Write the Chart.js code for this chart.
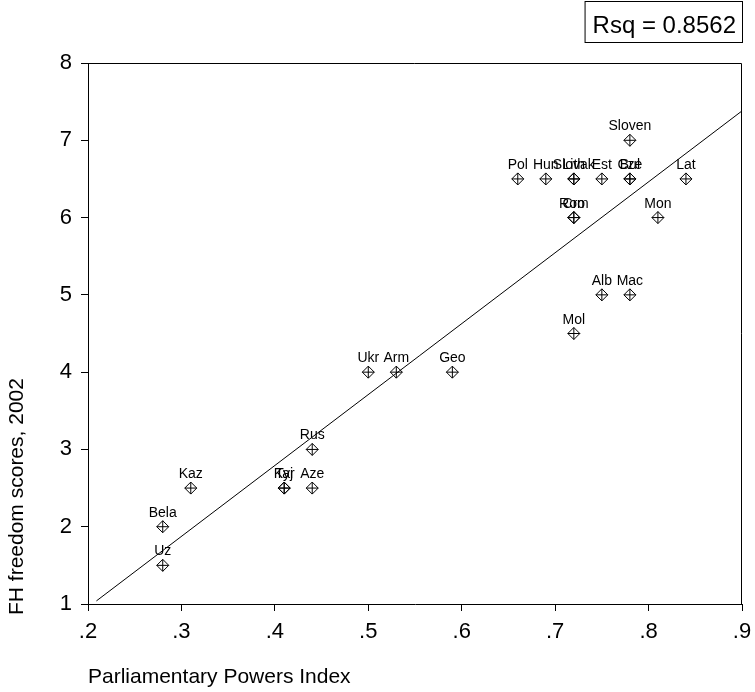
<!DOCTYPE html>
<html>
<head>
<meta charset="utf-8">
<title>FH freedom scores vs Parliamentary Powers Index</title>
<script src="https://cdn.jsdelivr.net/npm/chart.js@4.4.0/dist/chart.umd.min.js"></script>
<style>
    body { margin: 0; background: #fff; }
    canvas { display: block; }
</style>
</head>
<body>
<canvas id="myChart" width="755" height="692"></canvas>
<script>
//--- Data
var countries = ['Pol', 'Hun', 'Slovak', 'Lith', 'Est', 'Cze', 'Bul', 'Sloven', 'Lat',
    'Rom', 'Cro', 'Mon', 'Alb', 'Mac', 'Mol', 'Ukr', 'Arm', 'Geo', 'Rus',
    'Kyr', 'Taj', 'Aze', 'Kaz', 'Bela', 'Uz'];
var ppiValues = [0.66, 0.69, 0.72, 0.72, 0.75, 0.78, 0.78, 0.78, 0.84,
    0.72, 0.72, 0.81, 0.75, 0.78, 0.72, 0.50, 0.53, 0.59, 0.44,
    0.41, 0.41, 0.44, 0.31, 0.28, 0.28];
var fhValues = [6.5, 6.5, 6.5, 6.5, 6.5, 6.5, 6.5, 7, 6.5,
    6, 6, 6, 5, 5, 4.5, 4, 4, 4, 3,
    2.5, 2.5, 2.5, 2.5, 2, 1.5];
// fit line end points
var fitX = [0.209, 0.9];
var fitY = [1.04, 7.38];
var xTicks = [0.2, 0.3, 0.4, 0.5, 0.6, 0.7, 0.8, 0.9];
var yTicks = [1, 2, 3, 4, 5, 6, 7, 8];
var rsqText = 'Rsq = 0.8562';
var xTitle = 'Parliamentary Powers Index';
var yTitle = 'FH freedom scores, 2002';

var fontFamily = '"Liberation Sans", Arial, Helvetica, sans-serif';

var points = [];
for (var i = 0; i < countries.length; i++) {
    points.push({ x: ppiValues[i], y: fhValues[i] });
}
var fitPoints = [];
for (var j = 0; j < fitX.length; j++) {
    fitPoints.push({ x: fitX[j], y: fitY[j] });
}

//--- Plugin: point labels, box, axis titles, Rsq box
var extrasPlugin = {
    id: 'extras',
    afterDatasetsDraw: function (chart) {
        var c = chart.ctx;
        var xs = chart.scales.x, ys = chart.scales.y;
        var area = chart.chartArea;
        c.save();
        c.fillStyle = '#000';
        c.strokeStyle = '#000';
        c.lineWidth = 1;

        // labels above markers
        c.font = '14px ' + fontFamily;
        c.textAlign = 'center';
        c.textBaseline = 'alphabetic';
        for (var k = 0; k < countries.length; k++) {
            var px = xs.getPixelForValue(ppiValues[k]);
            var py = ys.getPixelForValue(fhValues[k]);
            c.fillText(countries[k], px, py - 10);
        }

        // top and right border of the plot
        c.beginPath();
        c.moveTo(area.left, area.top + 0.5);
        c.lineTo(area.right - 0.5, area.top + 0.5);
        c.lineTo(area.right - 0.5, area.bottom);
        c.stroke();

        // axis titles
        c.font = '21px ' + fontFamily;
        c.textAlign = 'left';
        c.fillText(xTitle, 88, 683);
        c.save();
        c.translate(23, 615);
        c.rotate(-Math.PI / 2);
        c.fillText(yTitle, 0, 0);
        c.restore();

        // Rsq box
        c.font = '24px ' + fontFamily;
        c.textAlign = 'right';
        var tw = c.measureText(rsqText).width;
        c.fillText(rsqText, 736, 33);
        c.strokeRect(736 - tw - 7.5, 1.5, tw + 14, 41);
        c.restore();
    }
};

//--- Chart
var ctx = document.getElementById('myChart');
new Chart(ctx, {
    type: 'scatter',
    data: {
        datasets: [
            {
                label: 'fit',
                data: fitPoints,
                showLine: true,
                borderColor: '#000',
                borderWidth: 1,
                pointRadius: 0,
                fill: false
            },
            {
                label: 'diamond',
                data: points,
                pointStyle: 'rectRot',
                pointRadius: 6,
                pointBorderWidth: 1,
                borderColor: '#000',
                backgroundColor: 'rgba(0,0,0,0)'
            },
            {
                label: 'cross',
                data: points,
                pointStyle: 'cross',
                pointRadius: 6,
                pointBorderWidth: 1,
                borderColor: '#000',
                backgroundColor: 'rgba(0,0,0,0)'
            }
        ]
    },
    options: {
        responsive: false,
        animation: false,
        layout: { padding: { top: 63, right: 13, left: 0, bottom: 0 } },
        plugins: {
            legend: { display: false },
            tooltip: { enabled: false }
        },
        scales: {
            x: {
                type: 'linear',
                min: xTicks[0],
                max: xTicks[xTicks.length - 1],
                afterFit: function (s) {
                    s.height = 88;
                    s.paddingLeft = 0;
                    s.paddingRight = 0;
                },
                afterBuildTicks: function (s) {
                    s.ticks = xTicks.map(function (v) { return { value: v }; });
                },
                ticks: {
                    color: '#000',
                    padding: 8,
                    font: { size: 22, family: fontFamily },
                    callback: function (value) {
                        return (Math.round(value * 10) / 10).toFixed(1).replace(/^0/, '');
                    }
                },
                grid: { drawOnChartArea: false, tickLength: 7, color: '#000' },
                border: { color: '#000', width: 1 }
            },
            y: {
                type: 'linear',
                min: yTicks[0],
                max: yTicks[yTicks.length - 1],
                afterFit: function (s) {
                    s.width = 88;
                    s.paddingTop = 0;
                    s.paddingBottom = 0;
                },
                afterBuildTicks: function (s) {
                    s.ticks = yTicks.map(function (v) { return { value: v }; });
                },
                ticks: {
                    color: '#000',
                    padding: 9,
                    font: { size: 22, family: fontFamily }
                },
                grid: { drawOnChartArea: false, tickLength: 7, color: '#000' },
                border: { color: '#000', width: 1 }
            }
        }
    },
    plugins: [extrasPlugin]
});
</script>
</body>
</html>
